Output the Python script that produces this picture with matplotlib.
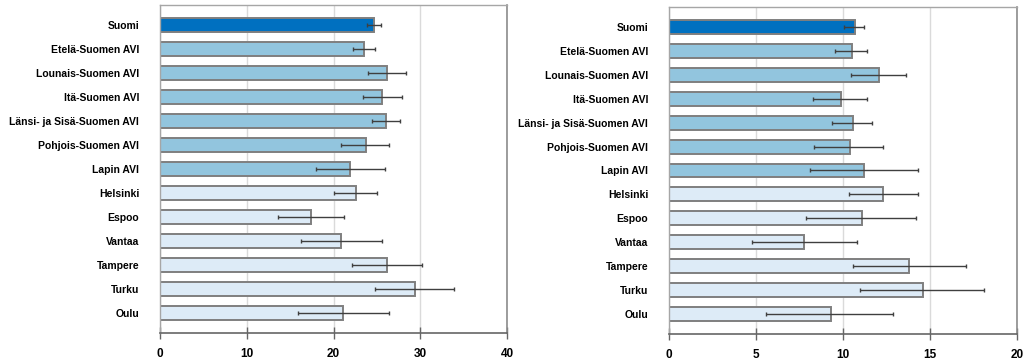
import matplotlib
matplotlib.use("Agg")
import matplotlib.pyplot as plt
import numpy as np

plt.rcParams['font.family'] = ['Liberation Sans', 'DejaVu Sans']

categories = ["Suomi", "Etelä-Suomen AVI", "Lounais-Suomen AVI", "Itä-Suomen AVI",
              "Länsi- ja Sisä-Suomen AVI", "Pohjois-Suomen AVI", "Lapin AVI",
              "Helsinki", "Espoo", "Vantaa", "Tampere", "Turku", "Oulu"]
groups = ["country", "avi", "avi", "avi", "avi", "avi", "avi",
          "city", "city", "city", "city", "city", "city"]

left_values = [24.7, 23.55, 26.2, 25.6, 26.1, 23.7, 21.9, 22.6, 17.4, 20.9, 26.2, 29.4, 21.1]
left_low = [23.9, 22.2, 24.0, 23.4, 24.4, 20.9, 18.0, 20.1, 13.6, 16.3, 22.1, 24.8, 15.9]
left_high = [25.5, 24.8, 28.3, 27.9, 27.7, 26.4, 25.9, 25.0, 21.2, 25.6, 30.2, 33.9, 26.4]

right_values = [10.72, 10.51, 12.10, 9.92, 10.61, 10.41, 11.22, 12.31, 11.10, 7.79, 13.83, 14.63, 9.32]
right_low = [10.09, 9.57, 10.47, 8.29, 9.38, 8.36, 8.09, 10.38, 7.88, 4.78, 10.59, 10.99, 5.56]
right_high = [11.20, 11.41, 13.62, 11.41, 11.68, 12.31, 14.31, 14.31, 14.21, 10.82, 17.11, 18.12, 12.91]

left_ticks = [0, 10, 20, 30, 40]
right_ticks = [0, 5, 10, 15, 20]

palette = {"country": "#0070C0", "avi": "#92C5DE", "city": "#DDEBF7"}

fig = plt.figure(figsize=(10.33, 3.6), dpi=100)
W, H = 1033, 360
ax1 = fig.add_axes([160 / W, 1 - 332.5 / H, (507 - 160) / W, (332.5 - 5) / H])
ax2 = fig.add_axes([669 / W, 1 - 334 / H, (1016.7 - 669) / W, (334 - 7) / H])


def draw(ax, values, low, high, ticks):
    y = np.arange(len(categories))
    colors = [palette[g] for g in groups]
    xerr = np.array([np.array(values) - np.array(low), np.array(high) - np.array(values)])
    ax.set_axisbelow(True)
    ax.grid(axis="x", color="#DADADA", linewidth=1)
    ax.barh(y, values, height=0.58, color=colors, edgecolor="#7F7F7F",
            linewidth=1.4, zorder=2)
    ax.errorbar(values, y, xerr=xerr, fmt="none", ecolor="#3F3F3F",
                elinewidth=1, capsize=1.5, capthick=1, zorder=3)
    ax.set_xlim(ticks[0], ticks[-1])
    ax.set_ylim(12.83, -0.83)
    ax.set_xticks(ticks)
    ax.set_xticklabels([str(t) for t in ticks], fontsize=8.5, fontweight="bold")
    ax.set_yticks(y)
    ax.set_yticklabels(categories, fontsize=7.5, fontweight="bold")
    ax.tick_params(axis="y", length=0, pad=15)
    ax.tick_params(axis="x", direction="inout", length=8, width=1,
                   color="#666666", pad=7)
    for side in ["top", "left"]:
        ax.spines[side].set_color("#A6A6A6")
        ax.spines[side].set_linewidth(1)
    ax.spines["right"].set_color("#8C8C8C")
    ax.spines["right"].set_linewidth(1.2)
    ax.spines["bottom"].set_color("#666666")
    ax.spines["bottom"].set_linewidth(1.2)


draw(ax1, left_values, left_low, left_high, left_ticks)
draw(ax2, right_values, right_low, right_high, right_ticks)

fig.savefig("out.png", dpi=100)
